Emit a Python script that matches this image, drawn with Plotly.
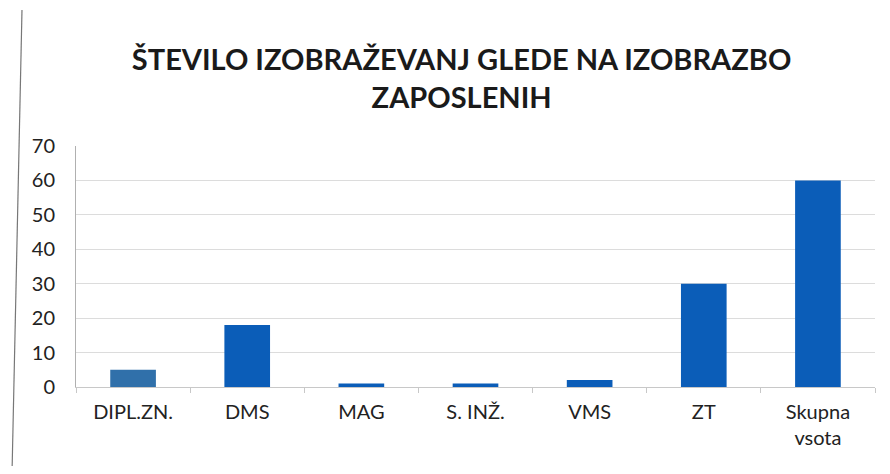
import plotly.graph_objects as go

categories = ["DIPL.ZN.", "DMS", "MAG", "S. INŽ.", "VMS", "ZT", "Skupna<br>vsota"]
values = [5, 18, 1, 1, 2, 30, 60]
bar_colors = ["#3070AA", "#0B5DB8", "#0B5DB8", "#0B5DB8", "#0B5DB8", "#0B5DB8", "#0B5DB8"]
y_ticks = [0, 10, 20, 30, 40, 50, 60, 70]
title_text = "ŠTEVILO IZOBRAŽEVANJ GLEDE NA IZOBRAZBO<br>ZAPOSLENIH"

fig = go.Figure(go.Bar(x=categories, y=values, marker=dict(color=bar_colors, line=dict(width=0)), width=0.4))

fig.update_layout(
    width=874, height=458,
    paper_bgcolor="white", plot_bgcolor="white",
    margin=dict(l=68, r=7, t=138, b=79),
    title=dict(text=title_text, x=0.519, xanchor="center", y=0.864, yanchor="top",
               font=dict(family="Lato", size=29, color="#1a1a1a", weight="bold")),
    showlegend=False,
    font=dict(family="Lato", color="#222"),
)
fig.update_xaxes(
    showgrid=False, showline=True, linecolor="#c8c8c8", linewidth=1,
    ticks="outside", tickson="boundaries", ticklen=5, tickcolor="#c8c8c8",
    tickfont=dict(size=20, color="#222"), ticklabelstandoff=7,
)
fig.update_yaxes(
    range=[0, 70], tickvals=y_ticks, showgrid=True, gridcolor="#dcdcdc",
    showline=True, linecolor="#b0b0b0", zeroline=False,
    tickfont=dict(size=20, color="#222"), ticklabelstandoff=16,
)
# scan border line on the left
fig.add_shape(type="line", xref="paper", yref="paper", x0=-0.0676, x1=-0.0801, y0=1.564, y1=-0.361,
              line=dict(color="#777", width=1.2))
fig.write_html("out.html")
